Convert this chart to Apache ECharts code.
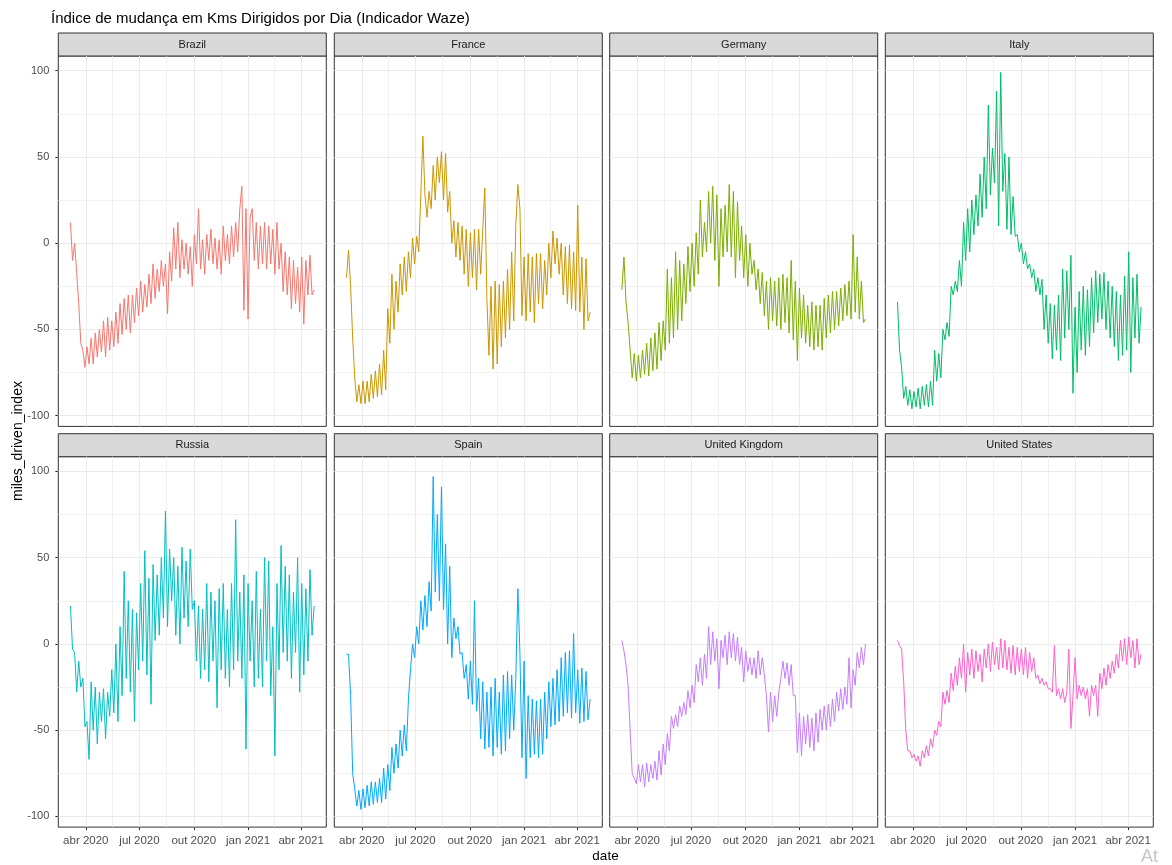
<!DOCTYPE html>
<html>
<head>
<meta charset="utf-8">
<script src="https://cdn.jsdelivr.net/npm/echarts@6/dist/echarts.min.js"></script>
<style>
  html, body { margin: 0; padding: 0; background: #fff; }
  #chart { width: 1172px; height: 865px; }
</style>
</head>
<body>
<div id="chart"></div>
<script>
// facets, in panel order
var countries = ['Brazil', 'France', 'Germany', 'Italy', 'Russia', 'Spain', 'United Kingdom', 'United States'];
var hueColors = ['#F8766D', '#CD9600', '#7CAE00', '#00BE67', '#00BFC4', '#00A9FF', '#C77CFF', '#FF61CC'];

var majorDates = ['2020-04-01', '2020-07-01', '2020-10-01', '2021-01-01', '2021-04-01'];
var monthNames = ['jan', 'fev', 'mar', 'abr', 'mai', 'jun', 'jul', 'ago', 'set', 'out', 'nov', 'dez'];
var yTicks = [-100, -50, 0, 50, 100];
var yMinor = [-75, -25, 25, 75];

// readings: "Hi" = one per week starting on firstDay, "Lo" = the weekend reading 3.5 days later
var firstDay = '2020-03-06';

var brazilHi = [12, 0, -35, -62, -60, -55, -52, -50, -45, -43,
  -45, -40, -35, -32, -30, -30, -26, -22, -24, -18,
  -12, -15, -10, -12, -5, 9, 12, 2, 0, -2,
  5, 20, 2, 5, 8, 3, 2, 10, 5, 10,
  12, 20, -39, -44, 20, 12, 10, 12, 10, 8,
  12, 0, -5, -8, -10, -14, -8, -10, -7, -27];
var brazilLo = [-10, -17, -58, -72, -70, -70, -66, -63, -66, -62,
  -60, -58, -53, -50, -52, -46, -42, -40, -37, -35,
  -32, -28, -25, -41, -22, -15, -20, -15, -18, -25,
  -12, -15, -18, -10, -12, -15, -18, -10, -12, -8,
  -5, 33, 20, 15, -10, -15, -12, -15, -12, -18,
  -15, -28, -30, -38, -35, -40, -47, -30, -30];

var franceHi = [-20, -25, -78, -82, -80, -80, -76, -74, -70, -62,
  -38, -18, -22, -12, -8, -5, 3, 4, 28, 28,
  30, 45, 50, 53, 52, 30, 13, 12, 10, 8,
  6, 8, 8, 8, -32, -25, -22, -24, -22, -15,
  -5, 10, 20, -8, -6, -8, -6, -6, -10, 0,
  7, 3, 0, -2, -1, -5, 22, -8, -9, -40];
var franceLo = [-4, -55, -92, -93, -93, -92, -90, -89, -88, -85,
  -58, -50, -40, -30, -28, -20, -12, -5, 62, 15,
  20, 25, 35, 25, 18, 0, -8, -10, -18, -25,
  -20, -27, -18, 32, -65, -73, -70, -60, -55, -50,
  -45, 34, -42, -45, -40, -46, -35, -38, -30, -20,
  -12, -18, -30, -35, -38, -39, -40, -50, -45];

var germanyHi = [-27, -34, -62, -64, -65, -62, -58, -55, -52, -46,
  -45, -15, -20, -5, -10, -12, -2, 0, 6, 25,
  12, 30, 33, 28, 20, 22, 34, 30, 24, 10,
  5, 0, -10, -15, -17, -22, -20, -22, -20, -18,
  -20, -10, -22, -26, -30, -36, -34, -36, -36, -32,
  -30, -28, -28, -26, -24, -22, 5, -8, -22, -44];
var germanyLo = [-8, -46, -78, -80, -78, -76, -77, -74, -73, -68,
  -62, -58, -55, -50, -45, -35, -28, -25, -18, -8,
  -5, 0, -10, -25, -8, -5, -8, -20, -10, -20,
  -25, -18, -27, -35, -42, -50, -45, -48, -50, -46,
  -52, -56, -68, -55, -58, -60, -62, -60, -62, -55,
  -52, -50, -48, -45, -42, -44, -40, -44, -46];

var italyHi = [-34, -72, -83, -85, -86, -84, -83, -82, -80, -62,
  -64, -50, -46, -25, -22, -10, 12, 20, 25, 28,
  40, 50, 80, 55, 88, 99, 52, 50, 27, 5,
  0, -5, -12, -15, -20, -21, -30, -35, -36, -30,
  -15, -16, -7, -37, -28, -25, -27, -20, -16, -18,
  -17, -22, -25, -28, -30, -19, -5, -20, -18, -37];
var italyLo = [-62, -90, -94, -96, -95, -96, -94, -95, -94, -80,
  -78, -56, -54, -30, -28, -25, -10, -5, 5, 10,
  15, 20, 28, 35, 10, 30, 8, 5, 4, -5,
  -12, -15, -20, -28, -30, -50, -58, -67, -62, -68,
  -55, -50, -87, -75, -62, -65, -60, -52, -46, -44,
  -50, -55, -60, -68, -65, -62, -75, -55, -58];

var russiaHi = [22, -5, -10, -20, -45, -22, -25, -28, -26, -28,
  -15, 0, 10, 42, 25, 20, 18, 35, 54, 38,
  46, 40, 50, 77, 55, 50, 45, 56, 48, 55,
  25, 22, 20, 35, 30, 25, 32, 35, 20, 35,
  72, 30, 40, 35, 25, 42, 20, 50, 48, 10,
  35, 57, 45, 40, 30, 50, 35, 32, 43, 22];
var russiaLo = [-3, -28, -25, -48, -67, -50, -58, -45, -55, -42,
  -40, -45, -30, -20, -28, -45, -15, -10, -18, -35,
  2, 5, 15, 10, 25, 5, 0, 15, 10, 20,
  -10, -20, -15, -22, -10, -37, -15, -20, -25, -15,
  -10, -20, -61, -10, -25, -20, -25, -10, -30, -65,
  -15, -5, -10, -20, -5, -28, -18, -10, 5];

var spainHi = [-6, -30, -84, -85, -84, -82, -80, -80, -78, -72,
  -70, -60, -58, -50, -47, -32, 0, 10, 25, 28,
  36, 97, 75, 91, 58, 45, 15, 10, -5, -12,
  -10, 25, -20, -22, -28, -25, -20, -28, -18, -16,
  -18, -20, -5, -10, -30, -32, -33, -32, -28, -22,
  -20, -15, -8, -5, -4, 6, -15, -14, -16, -32];
var spainLo = [-6, -75, -94, -96, -95, -94, -93, -92, -92, -90,
  -85, -75, -72, -65, -62, -15, -8, 0, 8, 10,
  19, 30, 25, 20, 0, -8, 3, -6, -20, -32,
  -35, -39, -55, -61, -60, -65, -60, -64, -62, -55,
  -50, 32, -66, -78, -66, -64, -66, -64, -55, -48,
  -47, -45, -42, -40, -43, -40, -46, -45, -44];

var ukHi = [2, -12, -50, -78, -70, -70, -69, -70, -68, -62,
  -58, -52, -42, -41, -36, -34, -27, -24, -12, -8,
  -6, 10, 7, 3, 2, 5, 7, 6, 4, -2,
  -4, -8, -8, -4, -8, -30, -28, -30, -28, -10,
  -11, -12, -30, -40, -42, -41, -43, -40, -38, -36,
  -35, -32, -28, -26, -25, -8, -15, -5, -2, 0];
var ukLo = [-4, -24, -75, -81, -80, -83, -80, -78, -79, -76,
  -70, -62, -49, -48, -42, -41, -37, -34, -22, -24,
  -20, -12, -10, -26, -8, -12, -8, -10, -12, -22,
  -16, -18, -20, -18, -18, -51, -45, -42, -20, -20,
  -24, -30, -63, -65, -58, -60, -62, -57, -50, -50,
  -48, -45, -39, -38, -35, -37, -24, -14, -12];

var usHi = [2, -3, -50, -62, -64, -65, -62, -59, -55, -50,
  -45, -28, -27, -17, -13, -8, 0, -5, -3, -4,
  -6, -3, 0, 1, -2, 3, 2, -2, -1, -2,
  -3, -2, -5, -8, -18, -20, -22, -26, -1, -26,
  -26, -28, -49, -8, -24, -25, -26, -24, -24, -17,
  -14, -12, -10, -6, 2, 3, 4, 2, 3, -6];
var usLo = [-1, -22, -62, -66, -68, -71, -66, -65, -60, -53,
  -48, -35, -34, -27, -24, -20, -28, -18, -20, -16,
  -22, -14, -16, -12, -15, -14, -15, -17, -18, -16,
  -18, -20, -16, -20, -23, -24, -26, -28, -30, -32,
  -34, -3, -30, -32, -30, -32, -42, -30, -42, -26,
  -24, -20, -17, -14, -10, -12, -8, -14, -12];

var hiSeries = [brazilHi, franceHi, germanyHi, italyHi, russiaHi, spainHi, ukHi, usHi];
var loSeries = [brazilLo, franceLo, germanyLo, italyLo, russiaLo, spainLo, ukLo, usLo];

// ---- layout ----
var DAY = 86400000;
var FONT = "'Liberation Sans', Arial, sans-serif";
var colLeft = [58.3, 334.3, 609.7, 885.3];
var rowTop = [56, 456.7];
var panelW = 268, panelH = 370.4, stripH = 23;
var yMin = -106.2, yMax = 108.5;

function ts(s) { return Date.parse(s + 'T00:00:00Z'); }
var t0 = ts(firstDay);

function buildData(hi, lo) {
  var out = [];
  for (var k = 0; k < hi.length; k++) {
    out.push([t0 + 7 * k * DAY, hi[k]]);
    if (k < lo.length) out.push([t0 + (7 * k + 3.5) * DAY, lo[k]]);
  }
  return out;
}

// ggplot-like 5% expansion of the date range
var tEnd = t0 + 7 * (brazilHi.length - 1) * DAY;
var span = tEnd - t0;
var xMin = t0 - 0.05 * span, xMax = tEnd + 0.05 * span;

var majorTs = majorDates.map(ts);
var minorTs = [];
for (var m = 1; m < majorTs.length; m++) minorTs.push((majorTs[m - 1] + majorTs[m]) / 2);

function dateLabel(v) {
  var d = new Date(v);
  return monthNames[d.getUTCMonth()] + ' ' + d.getUTCFullYear();
}

var grids = [], xAxes = [], yAxes = [], series = [], graphics = [];
var gridLine = { color: '#ebebeb', width: 1 };

countries.forEach(function (name, i) {
  var col = i % 4, row = Math.floor(i / 4);
  var left = colLeft[col], top = rowTop[row];
  grids.push({
    left: left, top: top, width: panelW, height: panelH,
    show: true, backgroundColor: '#fff', borderColor: '#333333', borderWidth: 1,
    containLabel: false, outerBoundsMode: 'none'
  });
  // major x (dates as timestamps on a value axis)
  xAxes.push({
    type: 'value', gridIndex: i, min: xMin, max: xMax, scale: true,
    axisLine: { show: false, onZero: false },
    axisTick: { show: row === 1, customValues: majorTs, length: 3, lineStyle: { color: '#333333' } },
    axisLabel: {
      show: row === 1, customValues: majorTs, formatter: dateLabel,
      color: '#4d4d4d', fontSize: 11.5, fontFamily: FONT, margin: 8
    },
    splitLine: { show: true, lineStyle: gridLine }
  });
  // minor x grid lines
  xAxes.push({
    type: 'value', gridIndex: i, min: xMin, max: xMax, scale: true,
    axisLine: { show: false, onZero: false },
    axisTick: { show: false, customValues: minorTs },
    axisLabel: { show: false },
    splitLine: { show: true, lineStyle: { color: '#ebebeb', width: 0.7 } }
  });
  yAxes.push({
    type: 'value', gridIndex: i, min: yMin, max: yMax,
    axisLine: { show: false, onZero: false },
    axisTick: { show: col === 0, customValues: yTicks, length: 3, lineStyle: { color: '#333333' } },
    axisLabel: {
      show: col === 0, customValues: yTicks,
      color: '#4d4d4d', fontSize: 11, fontFamily: FONT, margin: 9
    },
    splitLine: { show: true, lineStyle: gridLine }
  });
  yAxes.push({
    type: 'value', gridIndex: i, min: yMin, max: yMax,
    axisLine: { show: false, onZero: false },
    axisTick: { show: false, customValues: yMinor },
    axisLabel: { show: false },
    splitLine: { show: true, lineStyle: { color: '#ebebeb', width: 0.7 } }
  });
  series.push({
    name: name, type: 'line', xAxisIndex: 2 * i, yAxisIndex: 2 * i,
    data: buildData(hiSeries[i], loSeries[i]),
    symbol: 'none', showSymbol: false, silent: true, animation: false,
    lineStyle: { width: 1, color: hueColors[i] },
    itemStyle: { color: hueColors[i] }
  });
  // facet strip
  graphics.push({
    type: 'rect', silent: true,
    shape: { x: left, y: top - stripH, width: panelW, height: stripH },
    style: { fill: '#d9d9d9', stroke: '#333333', lineWidth: 1 }
  });
  graphics.push({
    type: 'text', silent: true,
    x: left + panelW / 2, y: top - stripH / 2,
    style: {
      text: name, fill: '#1a1a1a', font: '11px ' + FONT,
      align: 'center', verticalAlign: 'middle', textAlign: 'center', textVerticalAlign: 'middle'
    }
  });
});

// axis titles and corner text
graphics.push({
  type: 'text', silent: true, x: 18, y: 441, rotation: Math.PI / 2,
  style: {
    text: 'miles_driven_index', fill: '#000', font: '14px ' + FONT,
    align: 'center', verticalAlign: 'middle', textAlign: 'center', textVerticalAlign: 'middle'
  }
});
graphics.push({
  type: 'text', silent: true, x: 605.5, y: 856,
  style: {
    text: 'date', fill: '#000', font: '13.5px ' + FONT,
    align: 'center', verticalAlign: 'middle', textAlign: 'center', textVerticalAlign: 'middle'
  }
});
graphics.push({
  type: 'text', silent: true, x: 1141, y: 857,
  style: {
    text: 'At', fill: '#c6c6c6', font: '18px ' + FONT,
    align: 'left', verticalAlign: 'middle', textAlign: 'left', textVerticalAlign: 'middle'
  }
});

var chart = echarts.init(document.getElementById('chart'), null, { renderer: 'canvas' });
var option = {
  backgroundColor: '#fff',
  animation: false,
  title: {
    text: 'Índice de mudança em Kms Dirigidos por Dia (Indicador Waze)',
    left: 51, top: 11, padding: 0,
    textStyle: { fontSize: 15, fontWeight: 'normal', color: '#000', fontFamily: FONT }
  },
  grid: grids,
  xAxis: xAxes,
  yAxis: yAxes,
  series: series,
  graphic: { elements: graphics }
};
chart.setOption(option);
</script>
</body>
</html>
